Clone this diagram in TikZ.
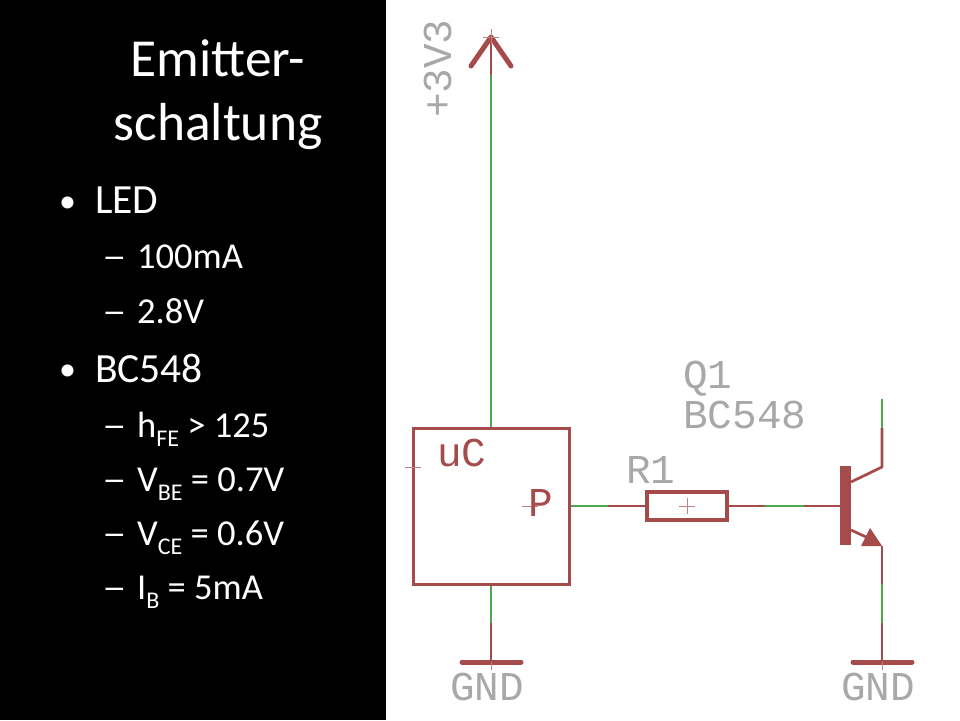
\documentclass[tikz,border=0pt]{standalone}
\usepackage{fontspec}
\setmainfont{Carlito}
\newfontfamily\cadfont{Liberation Mono}
\definecolor{netred}{HTML}{A54B4B}
\definecolor{netgreen}{HTML}{4CA64C}
\definecolor{cadgray}{HTML}{A8A8A8}
\newcommand{\fsz}[1]{\fontsize{#1}{#1}\selectfont}
\newcommand{\sbs}[1]{\raisebox{-0.25em}{\fsz{24}#1}}
\newcommand{\longdash}{\scalebox{1.35}[1]{–}}
\tikzset{
  sym/.style={draw=netred,line width=3pt},
  thick sym/.style={draw=netred,line width=5pt,line cap=round},
  wirered/.style={draw=netred,line width=2.7pt},
  wiregreen/.style={draw=netgreen,line width=2.7pt},
  origin/.style={draw=netred!70!white,line width=0.8pt},
  title/.style={text=white,font=\fsz{53.5},anchor=base,inner sep=0pt},
  lvlone/.style={text=white,font=\fsz{41.5},anchor=base west,inner sep=0pt},
  bulletmark/.style={text=white,font=\fsz{34},anchor=base west,inner sep=0pt},
  lvltwo/.style={text=white,font=\fsz{36.5},anchor=base west,inner sep=0pt},
  cadlabel/.style={text=cadgray,font=\cadfont\fsz{41},anchor=base west,inner sep=0pt},
  cadred/.style={text=netred,font=\cadfont\fsz{41},anchor=base west,inner sep=0pt},
}
\begin{document}
\begin{tikzpicture}[x=1pt,y=-1pt]
\useasboundingbox (0,0) rectangle (960,720);
\fill[white] (0,0) rectangle (960,720);
\fill[black] (0,0) rectangle (386,720);
% left text
\node[title] (t1) at (218,76) {Emitter-};
\node[title] (t2) at (218,140) {schaltung};
\node[bulletmark] (b1) at (59,212) {•};
\node[lvlone] (a1) at (95,213) {LED};
\node[lvltwo] (d1) at (102,268) {\longdash};
\node[lvltwo] (a2) at (137,268) {100mA};
\node[lvltwo] (d2) at (102,323) {\longdash};
\node[lvltwo] (a3) at (137,323) {2.8V};
\node[bulletmark] (b2) at (59,380) {•};
\node[lvlone] (a4) at (95,382) {BC548};
\node[lvltwo] (d3) at (102,437) {\longdash};
\node[lvltwo] (a5) at (137,437) {h\sbs{FE} > 125};
\node[lvltwo] (d4) at (102,491) {\longdash};
\node[lvltwo] (a6) at (137,491) {V\sbs{BE} = 0.7V};
\node[lvltwo] (d5) at (102,545) {\longdash};
\node[lvltwo] (a7) at (137,545) {V\sbs{CE} = 0.6V};
\node[lvltwo] (d6) at (102,599) {\longdash};
\node[lvltwo] (a8) at (137,599) {I\sbs{B} = 5mA};
% coordinates
\coordinate (vcc) at (491,37);
\coordinate (vccl) at (471,66);
\coordinate (vccr) at (511,66);
\coordinate (vccj) at (491,75);
\coordinate (uctop) at (491,428);
\coordinate (ucbot) at (491,584);
\coordinate (ucj) at (491,623);
\coordinate (gnda) at (491,662);
\coordinate (ucout) at (569,506);
\coordinate (wa) at (608,506);
\coordinate (ra) at (647,506);
\coordinate (rb) at (727,506);
\coordinate (wb) at (765,506);
\coordinate (wc) at (804,506);
\coordinate (base) at (840,506);
\coordinate (ctop) at (882,399);
\coordinate (cj) at (882,428);
\coordinate (ck) at (882,467);
\coordinate (cb) at (851,482);
\coordinate (eb) at (851,530);
\coordinate (et) at (882,546);
\coordinate (ej) at (882,584);
\coordinate (ek) at (882,623);
\coordinate (gndb) at (882,662);
% wires
\draw[wiregreen] (vccj) -- (uctop);
\draw[wirered] (vcc) -- (vccj);
\draw[wiregreen] (ucbot) -- (ucj);
\draw[wirered] (ucj) -- (gnda);
\draw[wiregreen] (ucout) -- (wa);
\draw[wirered] (wa) -- (ra);
\draw[wirered] (rb) -- (wb);
\draw[wiregreen] (wb) -- (wc);
\draw[wirered] (wc) -- (base);
\draw[wiregreen] (ctop) -- (cj);
\draw[wirered,line join=round] (cj) -- (ck) -- (cb);
\draw[wirered] (et) -- (ej);
\draw[wiregreen] (ej) -- (ek);
\draw[wirered] (ek) -- (gndb);
% supply arrow
\draw[thick sym,line join=round] (vccl) -- (vcc) -- (vccr);
\draw[origin] (483,37) -- (499,37) (491,29) -- (491,45);
% uC block
\draw[sym,fill=white] (413,428) rectangle (569,584);
\draw[origin] (405,467) -- (421,467);
\draw[origin] (522,506) -- (538,506);
\node[cadred] (uc) at (437,466) {uC};
\node[cadred] (pin) at (528,516) {P};
% resistor
\draw[draw=netred,line width=4.5pt,fill=white] (647,492) rectangle (727,520);
\draw[origin] (679,506) -- (695,506) (687,498) -- (687,514);
% transistor
\fill[netred] (840,466) rectangle (851,545);
\draw[wirered] (eb) -- (866,537);
\fill[netred] (861,546) -- (882,546) -- (870,528) -- cycle;
% grounds
\draw[thick sym] (462,662) -- (521,662);
\draw[thick sym] (853,662) -- (912,662);
\draw[origin] (491,662) -- (491,670);
\draw[origin] (882,662) -- (882,670);
% labels
\node[cadlabel] (g1) at (450,700) {GND};
\node[cadlabel] (g2) at (841,700) {GND};
\node[cadlabel] (q1) at (683,388) {Q1};
\node[cadlabel] (q2) at (683,428) {BC548};
\node[cadlabel] (r1) at (626,483) {R1};
\node[cadlabel,rotate=90] (v3) at (451,118) {+3V3};
\end{tikzpicture}
\end{document}
